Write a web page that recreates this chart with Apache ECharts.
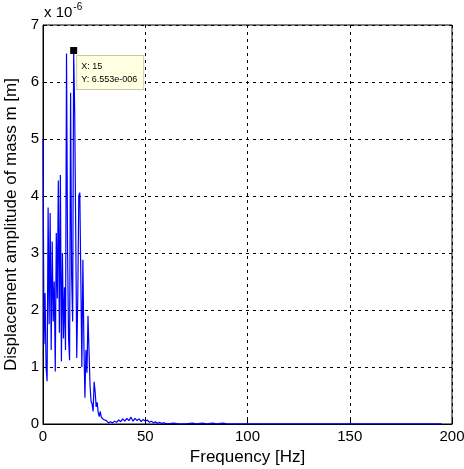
<!DOCTYPE html>
<html>
<head>
<meta charset="utf-8">
<script src="https://cdn.jsdelivr.net/npm/echarts@6/dist/echarts.min.js"></script>
<style>
  html, body { margin: 0; padding: 0; background: #fff; }
  #chart { width: 464px; height: 469px; }
</style>
</head>
<body>
<div id="chart"></div>
<script>
// frequency axis [Hz] and amplitude in units of 1e-6 m
var freqHz = [
  0, 0.5, 1, 1.5, 2, 2.5, 3, 3.5, 4, 4.5,
  5, 5.5, 6, 6.5, 7, 7.5, 8, 8.5, 9, 9.5,
  10, 10.5, 11, 11.5, 12, 12.5, 13, 13.5, 14, 14.5,
  15, 15.5, 16, 16.5, 17, 17.5, 18, 18.5, 19, 19.5,
  20, 20.5, 21, 21.5, 22, 22.5, 23, 23.5, 24, 24.5,
  25, 25.5, 26, 26.5, 27, 27.5, 28, 28.5, 29, 29.5,
  30, 31, 32, 33, 34, 35, 36, 37, 38, 39,
  40, 41, 42, 43, 44, 45, 46, 47, 48, 49,
  50, 51, 52, 53, 54, 55, 56, 57, 58, 59,
  60, 62, 64, 66, 70, 73, 75, 78, 80, 83,
  85, 88, 90, 100, 120, 140, 160, 180, 195
];
var ampMicro = [
  5.0, 1.4, 2.3, 1.0, 0.75, 3.8, 1.75, 3.7, 1.3, 3.2,
  1.8, 2.5, 0.92, 3.35, 2.2, 4.27, 1.6, 4.37, 1.1, 3.0,
  1.5, 2.4, 1.3, 6.5, 3.1, 1.5, 1.12, 5.81, 2.6, 1.8,
  6.553, 5.48, 3.4, 1.16, 2.2, 4.0, 4.06, 4.08, 1.0, 2.88,
  1.4, 0.46, 1.3, 0.9, 1.9, 1.88, 0.68, 0.4, 0.35, 0.22,
  0.74, 0.57, 0.3, 0.38, 0.2, 0.13, 0.22, 0.12, 0.15, 0.08,
  0.1, 0.06, 0.02, 0.04, 0.02, 0.05, 0.03, 0.07, 0.04, 0.09,
  0.05, 0.1, 0.06, 0.12, 0.05, 0.1, 0.06, 0.09, 0.04, 0.08,
  0.05, 0.07, 0.03, 0.05, 0.02, 0.04, 0.01, 0.03, 0.01, 0.02,
  0.01, 0.005, 0.015, 0.003, 0.003, 0.015, 0.003, 0.015, 0.003, 0.015,
  0.003, 0.015, 0.003, 0.002, 0.002, 0.002, 0.002, 0.002, 0.001
];
var xTicks = [0, 50, 100, 150, 200];
var yTicks = [0, 1, 2, 3, 4, 5, 6, 7];
var tipPoint = [15, 6.553];
var tipText = 'X: 15\nY: 6.553e-006';

var seriesData = [];
for (var i = 0; i < freqHz.length; i++) {
  seriesData.push([freqHz[i], ampMicro[i]]);
}

var font = 'Liberation Sans, Arial, sans-serif';
var gridLine = { show: true, lineStyle: { color: '#000', type: [3, 4], width: 1 } };

var myChart = echarts.init(document.getElementById('chart'));
var option = {
  animation: false,
  backgroundColor: '#fff',
  grid: {
    left: 43, right: 12, top: 25, bottom: 45,
    outerBoundsMode: 'none',
    containLabel: false,
    show: true, borderColor: '#000', borderWidth: 1, backgroundColor: 'transparent'
  },
  xAxis: {
    type: 'value',
    min: xTicks[0], max: xTicks[xTicks.length - 1], interval: 50,
    name: 'Frequency [Hz]',
    nameLocation: 'middle', nameGap: 22,
    nameTextStyle: { fontFamily: font, fontSize: 17, color: '#000' },
    axisLine: { show: true, lineStyle: { color: '#000' } },
    axisTick: { show: true, inside: true, length: 4, lineStyle: { color: '#000' } },
    axisLabel: { fontFamily: font, fontSize: 15, color: '#000', margin: 5 },
    splitLine: gridLine
  },
  yAxis: {
    type: 'value',
    min: yTicks[0], max: yTicks[yTicks.length - 1], interval: 1,
    name: 'Displacement amplitude of mass m [m]',
    nameLocation: 'middle', nameGap: 18,
    nameTextStyle: { fontFamily: font, fontSize: 17, color: '#000' },
    axisLine: { show: true, lineStyle: { color: '#000' } },
    axisTick: { show: true, inside: true, length: 4, lineStyle: { color: '#000' } },
    axisLabel: { fontFamily: font, fontSize: 15, color: '#000', margin: 4 },
    splitLine: gridLine
  },
  graphic: [{
    type: 'text',
    left: 44, top: 2,
    style: {
      text: '{b|x 10}{s|-6}',
      rich: {
        b: { fontFamily: font, fontSize: 15, fill: '#000', verticalAlign: 'bottom' },
        s: { fontFamily: font, fontSize: 10, fill: '#000', verticalAlign: 'top', padding: [0, 0, 8, 1] }
      }
    }
  }],
  series: [{
    type: 'line',
    data: seriesData,
    showSymbol: false,
    lineStyle: { color: '#0000ff', width: 1.2 },
    itemStyle: { color: '#0000ff' },
    markPoint: {
      symbol: 'rect',
      symbolSize: 7,
      itemStyle: { color: '#000' },
      data: [{ coord: tipPoint }],
      label: {
        show: true,
        position: [7, 9],
        align: 'left',
        verticalAlign: 'top',
        formatter: tipText,
        fontFamily: font,
        fontSize: 9,
        lineHeight: 13,
        color: '#000',
        backgroundColor: '#ffffe1',
        borderColor: '#c8c8a8',
        borderWidth: 1,
        padding: [4, 6, 3, 4]
      }
    }
  }]
};
myChart.setOption(option);
</script>
</body>
</html>
